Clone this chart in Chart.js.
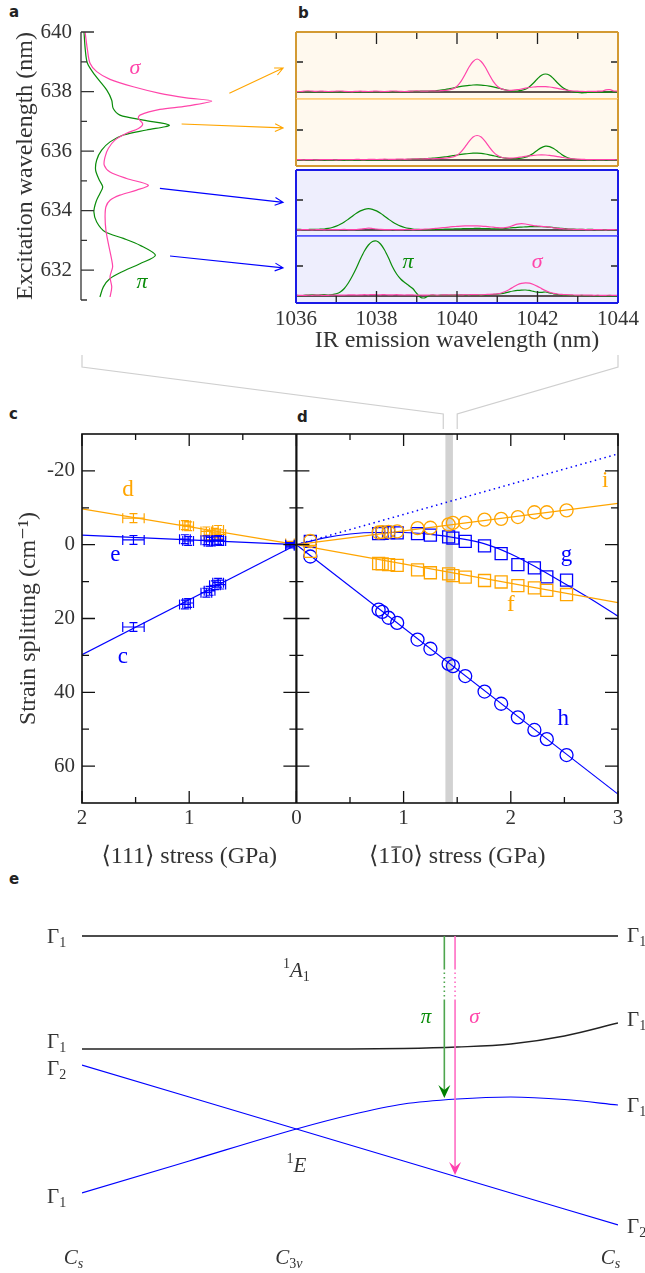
<!DOCTYPE html>
<html>
<head>
<meta charset="utf-8">
<script src="https://cdn.jsdelivr.net/npm/chart.js@4.4.0/dist/chart.umd.min.js"></script>
<style>
  body { margin: 0; background: #fff; width: 645px; height: 1273px; position: relative; overflow: hidden; }
  canvas { position: absolute; }
  .tag { position: absolute; font: bold 15px "DejaVu Sans", sans-serif; color: #222; line-height: 15px; }
</style>
</head>
<body>
<div class="tag" style="left:9px;top:5px">a</div>
<div class="tag" style="left:298px;top:6px">b</div>
<div class="tag" style="left:9px;top:407px">c</div>
<div class="tag" style="left:297px;top:410px">d</div>
<div class="tag" style="left:9px;top:872px">e</div>

<canvas id="chartA" width="296" height="360" style="left:0;top:0"></canvas>
<canvas id="chartB1" width="375" height="75" style="left:270px;top:28px"></canvas>
<canvas id="chartB2" width="375" height="75" style="left:270px;top:95px"></canvas>
<canvas id="chartB3" width="375" height="74" style="left:270px;top:166px"></canvas>
<canvas id="chartB4" width="375" height="123" style="left:270px;top:232px"></canvas>
<canvas id="chartCD" width="645" height="540" style="left:0;top:340px"></canvas>
<canvas id="chartE" width="645" height="393" style="left:0;top:880px"></canvas>

<script>
// ---------- a: excitation spectra (intensity vs excitation wavelength)
const sigmaExcWl = [640.0, 639.4, 638.95, 638.67, 638.41, 638.16, 637.94, 637.79, 637.68, 637.51, 637.40, 637.21,
  637.10, 636.91, 636.76, 636.60, 636.37, 636.09, 635.81, 635.53, 635.30, 635.08, 634.86, 634.69, 634.52, 634.35,
  634.13, 633.79, 633.34, 632.90, 632.34, 632.11, 631.78, 631.44, 631.10];
const sigmaExcInt = [0.019, 0.03, 0.042, 0.073, 0.135, 0.243, 0.367, 0.49, 0.608, 0.49, 0.367, 0.274,
  0.267, 0.287, 0.267, 0.212, 0.158, 0.127, 0.112, 0.108, 0.135, 0.212, 0.313, 0.259, 0.181, 0.135,
  0.116, 0.112, 0.116, 0.127, 0.143, 0.147, 0.135, 0.143, 0.135];
const piExcWl = [640.0, 639.4, 638.95, 638.55, 638.05, 637.71, 637.43, 637.21, 637.04, 636.87, 636.71, 636.54,
  636.31, 636.03, 635.70, 635.36, 635.03, 634.80, 634.58, 634.30, 633.96, 633.62, 633.29, 633.07, 632.84,
  632.50, 632.22, 631.94, 631.72, 631.44, 631.10];
const piExcInt = [0.014, 0.02, 0.03, 0.065, 0.12, 0.143, 0.15, 0.181, 0.29, 0.411, 0.305, 0.197,
  0.135, 0.096, 0.073, 0.068, 0.085, 0.101, 0.088, 0.07, 0.06, 0.073, 0.112, 0.197, 0.274,
  0.346, 0.274, 0.189, 0.135, 0.104, 0.088];
const excTicks = [631, 632, 633, 634, 635, 636, 637, 638, 639, 640];

// ---------- b: emission spectra, four excitation wavelengths
const emWl = [
  1036.0, 1036.1, 1036.2, 1036.3, 1036.4, 1036.5, 1036.6, 1036.7, 1036.8, 1036.9,
  1037.0, 1037.1, 1037.2, 1037.3, 1037.4, 1037.5, 1037.6, 1037.7, 1037.8, 1037.9,
  1038.0, 1038.1, 1038.2, 1038.3, 1038.4, 1038.5, 1038.6, 1038.7, 1038.8, 1038.9,
  1039.0, 1039.1, 1039.2, 1039.3, 1039.4, 1039.5, 1039.6, 1039.7, 1039.8, 1039.9,
  1040.0, 1040.1, 1040.2, 1040.3, 1040.4, 1040.5, 1040.6, 1040.7, 1040.8, 1040.9,
  1041.0, 1041.1, 1041.2, 1041.3, 1041.4, 1041.5, 1041.6, 1041.7, 1041.8, 1041.9,
  1042.0, 1042.1, 1042.2, 1042.3, 1042.4, 1042.5, 1042.6, 1042.7, 1042.8, 1042.9,
  1043.0, 1043.1, 1043.2, 1043.3, 1043.4, 1043.5, 1043.6, 1043.7, 1043.8, 1043.9, 1044.0];
const sigmaEm1 = [
  0.3, 0.5, 0.9, 1.2, 0.8, 0.6, 0.9, 0.7, 0.5, 0.6,
  0.8, 1.0, 0.7, 0.5, 0.4, 0.6, 0.8, 0.6, 0.5, 0.7,
  0.9, 0.6, 0.5, 0.7, 1.0, 0.8, 0.6, 0.5, 0.7, 0.9,
  1.1, 0.9, 0.8, 1.0, 1.2, 1.0, 1.3, 1.6, 2.0, 3.1,
  5.8, 10.6, 17.5, 25, 30.5, 33, 30.5, 25, 17.5, 10.6,
  5.8, 3.2, 2.0, 1.6, 1.8, 2.3, 3.0, 3.8, 4.5, 5.0,
  5.3, 5.4, 5.3, 5.0, 4.4, 3.6, 2.8, 2.0, 1.4, 1.0,
  0.8, 0.6, 0.5, 0.7, 0.6, 0.8, 0.9, 2.2, 2.3, 1.0, 0.8];
const piEm1 = [
  0.4, 0.2, 0.5, 0.3, 0.1, 0.3, 0.4, 0.2, 0.0, 0.2,
  0.3, 0.1, 0.2, 0.4, 0.3, 0.1, 0.2, 0.3, 0.2, 0.4,
  0.3, 0.5, 0.4, 0.2, 0.3, 0.4, 0.5, 0.4, 0.6, 0.7,
  0.6, 0.8, 0.9, 1.0, 1.2, 1.5, 1.9, 2.5, 3.2, 4.0,
  4.8, 5.6, 6.2, 6.7, 7.0, 7.1, 6.9, 6.5, 5.9, 5.1,
  4.2, 3.2, 2.2, 1.4, 1.0, 1.0, 1.6, 2.8, 5.3, 9.0,
  13.2, 16.7, 18.0, 16.7, 13.2, 9.0, 5.3, 2.6, 1.0, 0.0,
  -0.5, -0.8, -0.6, -0.4, -0.2, 0.0, -0.3, -0.1, 0.1, 0.0, 0.2];
const sigmaEm2 = [
  0.5, 0.3, 0.2, 0.4, 0.3, 0.2, 0.3, 0.5, 0.4, 0.3,
  0.2, 0.4, 0.5, 0.3, 0.4, 0.6, 0.5, 0.4, 0.6, 0.7,
  0.5, 0.6, 0.8, 0.7, 0.6, 0.8, 0.9, 0.7, 0.8, 1.0,
  1.1, 1.0, 1.2, 1.3, 1.2, 1.4, 1.6, 1.9, 2.3, 3.0,
  4.7, 8.2, 13.2, 18.6, 23.0, 24.5, 23.0, 18.6, 13.2, 8.2,
  4.7, 2.8, 2.0, 1.8, 2.0, 2.4, 3.0, 3.6, 4.2, 4.7,
  5.0, 5.1, 5.0, 4.7, 4.1, 3.4, 2.7, 2.0, 1.5, 1.1,
  0.8, 0.6, 0.5, 0.4, 0.5, 0.4, 0.3, 0.5, 0.4, 0.3, 0.2];
const piEm2 = [
  0.2, 0.0, 0.1, 0.2, -0.1, 0.0, 0.1, 0.0, -0.2, -0.1,
  0.0, 0.1, -0.1, -0.3, -0.2, 0.0, 0.1, 0.2, 0.1, 0.0,
  0.2, 0.1, 0.3, 0.2, 0.4, 0.3, 0.5, 0.4, 0.6, 0.8,
  0.9, 1.1, 1.3, 1.6, 1.9, 2.2, 2.6, 3.1, 3.7, 4.3,
  5.0, 5.6, 6.1, 6.5, 6.8, 6.9, 6.6, 6.0, 5.2, 4.3,
  3.4, 2.6, 1.9, 1.5, 1.3, 1.4, 1.9, 2.8, 4.4, 6.8,
  9.8, 12.4, 13.8, 13.4, 11.4, 8.6, 5.6, 3.2, 1.6, 0.8,
  0.4, 0.2, 0.3, 0.1, 0.2, 0.0, 0.1, 0.2, 0.0, 0.1, 0.0];
const sigmaEm3 = [
  0.3, 0.2, 0.4, 0.3, 0.2, 0.3, 0.4, 0.2, 0.3, 0.4,
  0.3, 0.5, 0.6, 0.4, 0.3, 0.5, 0.9, 1.4, 1.8, 1.5,
  1.0, 0.6, 0.4, 0.3, 0.5, 0.4, 0.3, 0.5, 0.6, 0.4,
  0.5, 0.7, 0.8, 1.0, 1.3, 1.7, 2.1, 2.5, 2.9, 3.3,
  3.6, 3.9, 4.1, 4.2, 4.2, 4.1, 3.9, 3.6, 3.2, 2.8,
  2.4, 2.1, 2.3, 3.2, 4.6, 5.8, 6.3, 6.0, 5.2, 4.4,
  4.0, 3.7, 3.3, 2.8, 2.2, 1.7, 1.3, 1.0, 0.8, 0.6,
  0.5, 0.6, 0.4, 0.3, 0.5, 0.4, 0.3, 0.2, 0.4, 0.3, 0.2];
const piEm3 = [
  0.5, 0.6, 0.4, 0.5, 0.7, 0.6, 0.8, 1.0, 1.6, 2.5,
  3.9, 5.7, 8.0, 10.8, 13.8, 16.7, 19.1, 20.7, 21.3, 20.7,
  19.1, 16.7, 13.8, 10.8, 8.0, 5.7, 3.9, 2.5, 1.6, 1.0,
  0.7, 0.5, 0.4, 0.5, 0.4, 0.6, 0.7, 0.8, 0.9, 1.0,
  1.1, 1.2, 1.4, 1.5, 1.5, 1.6, 1.5, 1.4, 1.3, 1.2,
  1.1, 1.2, 1.6, 2.0, 2.4, 2.7, 2.9, 3.1, 3.3, 3.4,
  3.4, 3.3, 3.1, 2.8, 2.4, 2.0, 1.6, 1.3, 1.0, 0.8,
  0.7, 0.6, 0.5, 0.6, 0.5, 0.4, 0.3, 0.4, 0.3, 0.2, 0.3];
const sigmaEm4 = [
  0.5, 0.7, 0.6, 0.8, 0.7, 0.9, 0.8, 0.6, 0.7, 0.9,
  1.0, 0.8, 0.9, 1.1, 1.2, 1.0, 1.1, 1.3, 1.2, 1.4,
  1.3, 1.2, 1.4, 1.1, 1.2, 1.3, 1.1, 1.0, 1.2, 1.1,
  0.9, 1.0, 0.8, 1.0, 1.1, 0.9, 1.0, 1.2, 1.1, 1.0,
  1.2, 1.1, 1.3, 1.2, 1.4, 1.3, 1.2, 1.5, 1.6, 1.8,
  2.2, 3.0, 4.5, 6.6, 9.0, 11.2, 12.6, 13.2, 12.8, 11.5,
  9.6, 7.4, 5.4, 3.8, 2.7, 2.0, 1.6, 1.3, 1.1, 1.0,
  0.9, 1.0, 0.8, 0.9, 0.7, 0.8, 0.6, 0.7, 0.8, 0.6, 0.7];
const piEm4 = [
  0.8, 0.3, 0.6, 1.0, 1.2, 0.9, 1.1, 1.3, 1.0, 1.4,
  2.2, 4.0, 7.5, 13, 20, 28, 37, 45, 51, 54.5,
  55, 52, 46, 38, 29, 22, 17, 13.5, 10.5, 7.5,
  2.5, -1.5, -1.8, 0.3, 0.8, 0.5, 0.9, 1.0, 0.7, 0.9,
  0.8, 1.1, 0.9, 1.0, 1.2, 1.0, 0.8, 1.1, 1.3, 1.5,
  1.8, 2.4, 3.2, 4.2, 5.0, 5.6, 5.9, 6.0, 5.6, 4.6,
  3.8, 3.6, 4.0, 3.2, 2.2, 1.5, 1.0, 0.7, 0.6, 0.5,
  0.4, 0.6, 0.3, 0.5, 0.4, 0.2, 0.4, 0.3, 0.1, 0.2, 0.0];

// ---------- c: <111> stress (GPa) vs strain splitting (cm^-1)
const stress111 = [1.52, 1.04, 1.01, 0.84, 0.81, 0.76, 0.73, 0.71, 0.06];
const splitC = [22.3, 16.2, 15.8, 13.0, 12.5, 11.0, 10.3, 10.8, 0.3];
const splitD = [-7.2, -5.3, -5.0, -3.6, -2.6, -3.2, -4.0, -2.8, -0.3];
const splitE = [-1.3, -1.5, -1.0, -1.2, -0.8, -1.1, -1.3, -1.0, 0.0];
const stressErr111 = [0.1, 0.05, 0.05, 0.05, 0.05, 0.05, 0.05, 0.05, 0.04];
const splitErr111 = [1.2, 1.2, 1.2, 1.2, 1.2, 1.2, 1.2, 1.2, 0.6];
const fit111 = [0, 2];
const fitC = [0, 29.8];
const fitD = [0, -9.7];
const fitE = [0, -2.6];

// ---------- d: <1-10> stress (GPa) vs strain splitting (cm^-1)
const stress110 = [0.13, 0.767, 0.80, 0.86, 0.94, 1.13, 1.25, 1.42, 1.46, 1.575, 1.755, 1.91, 2.066, 2.22, 2.336, 2.52];
const splitI = [-1.0, -3.3, -3.4, -3.5, -3.6, -4.5, -4.6, -5.5, -5.9, -6.0, -6.8, -7.0, -7.5, -8.8, -8.8, -9.3];
const splitG = [-0.9, -3.0, -3.1, -3.3, -3.2, -3.0, -2.6, -2.1, -1.8, -0.9, 0.3, 2.4, 5.4, 6.3, 8.7, 9.6];
const splitF = [1.8, 5.1, 5.2, 5.4, 5.6, 6.8, 7.6, 7.9, 8.4, 8.8, 9.7, 10.1, 11.1, 11.7, 12.4, 13.5];
const splitH = [3.2, 17.6, 18.2, 19.8, 21.2, 25.7, 28.2, 32.3, 32.9, 35.6, 39.8, 43.1, 46.8, 50.2, 52.7, 57.0];
const fit110 = [0, 3];
const fitI = [0, -11.2];
const fitIdot = [0, -24.6];
const fitF = [0, 15.7];
const fitH = [0, 67.6];
const fitGStress = [0, 0.25, 0.5, 0.75, 1.0, 1.25, 1.5, 1.75, 2.0, 2.25, 2.5, 2.75, 3.0];
const fitG = [0, -1.8, -2.9, -3.3, -3.3, -2.8, -1.8, -0.3, 2.5, 6.3, 10.5, 14.8, 19.4];
const bandStress = [1.39, 1.46];

// ---------- e: level diagram (stress axis shared with c/d, <111> negative)
const levelX = [-2, -1, 0, 0.5, 1, 1.5, 2, 2.5, 3];
const levelA1Upper = [30.4, 30.4, 30.4, 30.4, 30.4, 30.4, 30.4, 30.4, 30.4];
const levelA1Lower = [19.1, 19.1, 19.1, 19.1, 19.15, 19.3, 19.6, 20.4, 21.7];
const levelE2 = [17.5, 14.3, 11.1, 9.5, 7.9, 6.3, 4.7, 3.1, 1.5];
const levelE1 = [4.7, 7.9, 11.1, 12.5, 13.6, 14.1, 14.3, 14.05, 13.5];

const pink = '#ff45aa', green = '#0a8c0a', orange = '#ffa500', blue = '#0000ff', ink = '#333';
const serif = '"Liberation Serif", "DejaVu Serif", serif';
const F = size => ({family: serif, size: size});
Chart.defaults.font.family = serif;
Chart.defaults.color = ink;

const xy = (xs, ys) => xs.map((x, i) => ({x: x, y: ys[i]}));
const neg = (xs) => xs.map(v => -v);

function baseOptions(pad) {
  return {
    responsive: false, animation: false, devicePixelRatio: 1, events: [],
    layout: {autoPadding: false, padding: pad},
    plugins: {legend: {display: false}, tooltip: {enabled: false}}
  };
}

function openArrow(ctx, x0, y0, x1, y1, color) {
  const ang = Math.atan2(y1 - y0, x1 - x0), L = 9, sp = 0.45;
  ctx.strokeStyle = color; ctx.lineWidth = 1.1;
  ctx.beginPath();
  ctx.moveTo(x0, y0); ctx.lineTo(x1, y1);
  ctx.moveTo(x1 - L * Math.cos(ang - sp), y1 - L * Math.sin(ang - sp));
  ctx.lineTo(x1, y1);
  ctx.lineTo(x1 - L * Math.cos(ang + sp), y1 - L * Math.sin(ang + sp));
  ctx.stroke();
}

// rich text: parts of {t, size, it, dy}
function rich(ctx, parts, x, y, align, color) {
  const fnt = p => (p.it ? 'italic ' : '') + p.size + 'px ' + serif;
  let w = 0;
  parts.forEach(p => { ctx.font = fnt(p); w += ctx.measureText(p.t).width; });
  let cx = align === 'center' ? x - w / 2 : x;
  ctx.fillStyle = color || ink; ctx.textAlign = 'left'; ctx.textBaseline = 'alphabetic';
  parts.forEach(p => { ctx.font = fnt(p); ctx.fillText(p.t, cx, y + (p.dy || 0)); cx += ctx.measureText(p.t).width; });
}

// ---------- a
const excArrows = [
  {x0: 0.69, y0: 637.94, x1: 0.94, y1: 638.79, color: orange},
  {x0: 0.468, y0: 636.91, x1: 0.94, y1: 636.78, color: orange},
  {x0: 0.367, y0: 634.75, x1: 0.94, y1: 634.28, color: blue},
  {x0: 0.414, y0: 632.48, x1: 0.94, y1: 632.08, color: blue}
];
new Chart(document.getElementById('chartA'), {
  type: 'scatter',
  data: {datasets: [
    {data: xy(sigmaExcInt, sigmaExcWl), showLine: true, borderColor: pink, borderWidth: 1.2, pointRadius: 0, tension: 0.3},
    {data: xy(piExcInt, piExcWl), showLine: true, borderColor: green, borderWidth: 1.2, pointRadius: 0, tension: 0.3}
  ]},
  options: Object.assign(baseOptions({left: 11, right: 0, top: 32, bottom: 60}), {
    scales: {
      x: {type: 'linear', min: 0, max: 1, display: false},
      y: {type: 'linear', min: 631, max: 640,
          grid: {display: false, drawTicks: false}, border: {display: false},
          ticks: {stepSize: 1, autoSkip: false, padding: 9, font: F(21), color: ink,
                  callback: v => (v % 2 === 0 ? String(v) : '')},
          title: {display: true, text: 'Excitation wavelength (nm)', font: F(24), color: ink, padding: 0},
          afterFit: s => { s.width = 70; }}
    }
  }),
  plugins: [{
    id: 'panelA',
    afterDraw(chart) {
      const {ctx, chartArea: ar, scales: {x, y}} = chart;
      ctx.save();
      ctx.strokeStyle = ink; ctx.lineWidth = 1.3;
      ctx.beginPath();
      ctx.moveTo(ar.left, ar.top); ctx.lineTo(ar.left, ar.bottom);
      excTicks.forEach(w => {
        const py = y.getPixelForValue(w);
        ctx.moveTo(ar.left, py); ctx.lineTo(ar.left + (w % 2 === 0 ? 13 : 6), py);
      });
      ctx.stroke();
      excArrows.forEach(a => openArrow(ctx, x.getPixelForValue(a.x0), y.getPixelForValue(a.y0),
                                       x.getPixelForValue(a.x1), y.getPixelForValue(a.y1), a.color));
      ctx.font = 'italic 22px ' + serif; ctx.textAlign = 'center'; ctx.textBaseline = 'middle';
      ctx.fillStyle = pink; ctx.fillText('σ', x.getPixelForValue(0.251), y.getPixelForValue(638.79));
      ctx.fillStyle = green; ctx.fillText('π', x.getPixelForValue(0.284), y.getPixelForValue(631.6));
      ctx.restore();
    }
  }]
});

// ---------- b
const orangeBox = {bg: '#fff9ee', frame: '#d39a33', sep: '#ffc870'};
const blueBox = {bg: '#eeeefd', frame: '#1a1ae6', sep: '#4d4dff'};
const emMajor = [1038, 1040, 1042], emMinor = [1037, 1039, 1041, 1043];

function emChart(id, sig, pi, cfg) {
  return new Chart(document.getElementById(id), {
    type: 'line',
    data: {datasets: [
      {data: xy(emWl, sig), borderColor: pink, borderWidth: 1.2, pointRadius: 0, tension: 0.3},
      {data: xy(emWl, pi), borderColor: green, borderWidth: 1.2, pointRadius: 0, tension: 0.3},
      {data: xy([1036, 1044], [0, 0]), borderColor: '#2a1a1a', borderWidth: 1.6, pointRadius: 0}
    ]},
    options: Object.assign(baseOptions({left: 26, right: 27, top: 4, bottom: cfg.axis ? 0 : 4}), {
      scales: {
        x: {type: 'linear', min: 1036, max: 1044, display: !!cfg.axis,
            grid: {display: false, drawTicks: false}, border: {display: false},
            ticks: {stepSize: 2, padding: 3.5, font: F(21), color: ink, maxRotation: 0, callback: v => String(v)},
            title: {display: true, text: 'IR emission wavelength (nm)', font: F(24), color: ink, padding: 0},
            afterFit: s => { s.height = cfg.axis ? 52 : 0; }},
        y: {type: 'linear', min: cfg.yMin, max: cfg.yMax, display: false}
      }
    }),
    plugins: [{
      id: 'emBox',
      beforeDatasetsDraw(chart) {
        const {ctx, chartArea: ar} = chart;
        ctx.save(); ctx.fillStyle = cfg.box.bg;
        ctx.fillRect(ar.left, ar.top, ar.right - ar.left, ar.bottom - ar.top);
        ctx.restore();
      },
      afterDraw(chart) {
        const {ctx, chartArea: ar, scales: {x, y}} = chart;
        ctx.save();
        // ticks
        ctx.strokeStyle = '#222'; ctx.lineWidth = 1.3; ctx.beginPath();
        const ty = y.getPixelForValue(30);
        ctx.moveTo(ar.left, ty); ctx.lineTo(ar.left + 7, ty);
        ctx.moveTo(ar.right, ty); ctx.lineTo(ar.right - 7, ty);
        if (cfg.topTicks || cfg.bottomTicks) {
          const y0 = cfg.topTicks ? ar.top : ar.bottom, dir = cfg.topTicks ? 1 : -1;
          emMajor.forEach(v => { const px = x.getPixelForValue(v); ctx.moveTo(px, y0); ctx.lineTo(px, y0 + dir * 12); });
          emMinor.forEach(v => { const px = x.getPixelForValue(v); ctx.moveTo(px, y0); ctx.lineTo(px, y0 + dir * 7); });
        }
        ctx.stroke();
        // frame
        const side = (c, w, x0, y0, x1, y1) => { ctx.strokeStyle = c; ctx.lineWidth = w; ctx.beginPath(); ctx.moveTo(x0, y0); ctx.lineTo(x1, y1); ctx.stroke(); };
        side(cfg.top === 'frame' ? cfg.box.frame : cfg.box.sep, cfg.top === 'frame' ? 2 : 1.5, ar.left, ar.top, ar.right, ar.top);
        side(cfg.bottom === 'frame' ? cfg.box.frame : cfg.box.sep, cfg.bottom === 'frame' ? 2 : 1.5, ar.left, ar.bottom, ar.right, ar.bottom);
        side(cfg.box.frame, 2, ar.left, ar.top, ar.left, ar.bottom);
        side(cfg.box.frame, 2, ar.right, ar.top, ar.right, ar.bottom);
        if (cfg.labels) {
          ctx.font = 'italic 22px ' + serif; ctx.textAlign = 'center'; ctx.textBaseline = 'middle';
          ctx.fillStyle = green; ctx.fillText('π', x.getPixelForValue(1038.78), y.getPixelForValue(34));
          ctx.fillStyle = pink; ctx.fillText('σ', x.getPixelForValue(1041.99), y.getPixelForValue(34));
        }
        ctx.restore();
      }
    }]
  });
}
emChart('chartB1', sigmaEm1, piEm1, {box: orangeBox, yMin: -7, yMax: 60, top: 'frame', bottom: 'sep', topTicks: true});
emChart('chartB2', sigmaEm2, piEm2, {box: orangeBox, yMin: -6, yMax: 61, top: 'sep', bottom: 'frame'});
emChart('chartB3', sigmaEm3, piEm3, {box: blueBox, yMin: -6, yMax: 60, top: 'frame', bottom: 'sep'});
emChart('chartB4', sigmaEm4, piEm4, {box: blueBox, yMin: -7, yMax: 60, top: 'sep', bottom: 'frame', bottomTicks: true, axis: true, labels: true});

// ---------- c + d
function errBars(ctx, x, y, xs, ys, xe, ye, color) {
  ctx.strokeStyle = color; ctx.lineWidth = 1.2; ctx.beginPath();
  xs.forEach((v, i) => {
    const px = x.getPixelForValue(v), py = y.getPixelForValue(ys[i]);
    const x1 = x.getPixelForValue(v - xe[i]), x2 = x.getPixelForValue(v + xe[i]);
    const y1 = y.getPixelForValue(ys[i] - ye[i]), y2 = y.getPixelForValue(ys[i] + ye[i]);
    ctx.moveTo(x1, py); ctx.lineTo(x2, py);
    ctx.moveTo(x1, py - 5); ctx.lineTo(x1, py + 5);
    ctx.moveTo(x2, py - 5); ctx.lineTo(x2, py + 5);
    ctx.moveTo(px, y1); ctx.lineTo(px, y2);
    ctx.moveTo(px - 4, y1); ctx.lineTo(px + 4, y1);
    ctx.moveTo(px - 4, y2); ctx.lineTo(px + 4, y2);
  });
  ctx.stroke();
}
const lineDs = (xs, ys, color, extra) => Object.assign({data: xy(xs, ys), showLine: true, borderColor: color, borderWidth: 1.2, pointRadius: 0}, extra || {});
const markDs = (xs, ys, color, style, r) => ({data: xy(xs, ys), showLine: false, pointStyle: style, pointRadius: r,
  pointBorderColor: color, pointBackgroundColor: 'rgba(0,0,0,0)', pointBorderWidth: 1.3});
const curveLabels = [
  {t: 'd', x: -1.57, y: -14.9, c: orange}, {t: 'e', x: -1.69, y: 2.7, c: blue}, {t: 'c', x: -1.62, y: 30.3, c: blue},
  {t: 'i', x: 2.88, y: -17.3, c: orange}, {t: 'g', x: 2.52, y: 2.7, c: blue}, {t: 'f', x: 2.0, y: 16.2, c: orange},
  {t: 'h', x: 2.49, y: 47.3, c: blue}
];
const xTickVals = [-2, -1.5, -1, -0.5, 0, 0.5, 1, 1.5, 2, 2.5, 3];
const yTickVals = [-20, -10, 0, 10, 20, 30, 40, 50, 60];

new Chart(document.getElementById('chartCD'), {
  type: 'scatter',
  data: {datasets: [
    markDs(stress110, splitI, orange, 'circle', 6.5),
    markDs(stress110, splitF, orange, 'rect', 8.5),
    markDs(stress110, splitG, blue, 'rect', 8.5),
    markDs(stress110, splitH, blue, 'circle', 6.5),
    lineDs(neg(fit111), fitC, blue),
    lineDs(neg(fit111), fitD, orange),
    lineDs(neg(fit111), fitE, blue),
    lineDs(fit110, fitI, orange),
    lineDs(fit110, fitIdot, blue, {borderDash: [1.5, 3.5], borderWidth: 1.5}),
    lineDs(fit110, fitF, orange),
    lineDs(fit110, fitH, blue),
    lineDs(fitGStress, fitG, blue, {cubicInterpolationMode: 'monotone'})
  ]},
  options: Object.assign(baseOptions({left: 14, right: 27, top: 94, bottom: 17}), {
    scales: {
      x: {type: 'linear', min: -2, max: 3,
          grid: {display: false, drawTicks: false}, border: {display: false},
          ticks: {stepSize: 0.5, autoSkip: false, padding: 2.5, font: F(21), color: ink, maxRotation: 0,
                  callback: v => (Number.isInteger(v) ? String(Math.abs(v)) : '')},
          afterFit: s => { s.height = 60; }},
      y: {type: 'linear', min: -30, max: 70, reverse: true,
          grid: {display: false, drawTicks: false}, border: {display: false},
          ticks: {stepSize: 10, autoSkip: false, padding: 7, font: F(21), color: ink,
                  callback: v => (v % 20 === 0 ? String(v) : '')},
          title: {display: true, text: 'Strain splitting (cm⁻¹)', font: F(24), color: ink, padding: 0},
          afterFit: s => { s.width = 68; }}
    }
  }),
  plugins: [{
    id: 'panelCD',
    beforeDatasetsDraw(chart) {
      const {ctx, chartArea: ar, scales: {x}} = chart;
      ctx.save();
      const b0 = x.getPixelForValue(bandStress[0]), b1 = x.getPixelForValue(bandStress[1]);
      ctx.fillStyle = '#d2d2d2';
      ctx.fillRect(b0, ar.top, b1 - b0, ar.bottom - ar.top);
      // connector from panel b to the band
      ctx.strokeStyle = '#cfcfcf'; ctx.lineWidth = 1.2; ctx.beginPath();
      ctx.moveTo(x.getPixelForValue(-2), ar.top - 79); ctx.lineTo(x.getPixelForValue(-2), ar.top - 67);
      ctx.lineTo(x.getPixelForValue(1.37), ar.top - 20); ctx.lineTo(x.getPixelForValue(1.37), ar.top - 5);
      ctx.moveTo(x.getPixelForValue(3), ar.top - 79); ctx.lineTo(x.getPixelForValue(3), ar.top - 67);
      ctx.lineTo(x.getPixelForValue(1.5), ar.top - 20); ctx.lineTo(x.getPixelForValue(1.5), ar.top - 5);
      ctx.stroke();
      ctx.restore();
    },
    afterDatasetsDraw(chart) {
      const {ctx, scales: {x, y}} = chart;
      ctx.save();
      const nx = neg(stress111);
      errBars(ctx, x, y, nx, splitD, stressErr111, splitErr111, orange);
      errBars(ctx, x, y, nx, splitE, stressErr111, splitErr111, blue);
      errBars(ctx, x, y, nx, splitC, stressErr111, splitErr111, blue);
      ctx.font = '23px ' + serif; ctx.textAlign = 'center'; ctx.textBaseline = 'middle';
      curveLabels.forEach(l => { ctx.fillStyle = l.c; ctx.fillText(l.t, x.getPixelForValue(l.x), y.getPixelForValue(l.y)); });
      ctx.restore();
    },
    afterDraw(chart) {
      const {ctx, chartArea: ar, scales: {x, y}} = chart;
      ctx.save();
      ctx.strokeStyle = '#111'; ctx.lineWidth = 1.6;
      ctx.strokeRect(ar.left, ar.top, ar.right - ar.left, ar.bottom - ar.top);
      const x0 = x.getPixelForValue(0);
      ctx.lineWidth = 2.2; ctx.beginPath(); ctx.moveTo(x0, ar.top); ctx.lineTo(x0, ar.bottom); ctx.stroke();
      ctx.lineWidth = 1.3; ctx.beginPath();
      xTickVals.forEach(v => {
        const px = x.getPixelForValue(v), L = Number.isInteger(v) ? 12 : 6;
        ctx.moveTo(px, ar.top); ctx.lineTo(px, ar.top + L);
        ctx.moveTo(px, ar.bottom); ctx.lineTo(px, ar.bottom - L);
      });
      yTickVals.forEach(v => {
        const py = y.getPixelForValue(v), L = v % 20 === 0 ? 13 : 7;
        ctx.moveTo(ar.left, py); ctx.lineTo(ar.left + L, py);
        ctx.moveTo(ar.right, py); ctx.lineTo(ar.right - L, py);
        ctx.moveTo(x0 - L, py); ctx.lineTo(x0 + L, py);
      });
      ctx.stroke();
      // two x-axis titles
      const ty = ar.bottom + 54;
      ctx.fillStyle = ink; ctx.font = '24px ' + serif; ctx.textBaseline = 'middle'; ctx.textAlign = 'center';
      ctx.fillText('⟨111⟩ stress (GPa)', x.getPixelForValue(-1), ty);
      const t2 = '⟨110⟩ stress (GPa)', cx = x.getPixelForValue(1.5);
      const w = ctx.measureText(t2).width;
      ctx.fillText(t2, cx, ty);
      const wA = ctx.measureText('⟨1').width, w1 = ctx.measureText('1').width;
      const ox = cx - w / 2 + wA;
      ctx.strokeStyle = ink; ctx.lineWidth = 1.1; ctx.beginPath();
      ctx.moveTo(ox + 1, ty - 10); ctx.lineTo(ox + w1 - 1, ty - 10); ctx.stroke();
      ctx.restore();
    }
  }]
});

// ---------- e
const eArrows = [
  {x: 1.38, from: 30.4, to: 14.2, dot: [27.2, 24.0], line: '#4ea64e', head: '#008000'},
  {x: 1.48, from: 30.4, to: 6.5, dot: [27.2, 24.0], line: '#ff6ec4', head: '#ff3fae'}
];
const G = (n) => [{t: 'Γ', size: 21}, {t: n, size: 14, dy: 4}];
const levelLabels = [
  {side: 'L', val: 30.4, off: 7, n: '1'}, {side: 'L', val: 19.1, off: -1, n: '1'},
  {side: 'L', val: 17.5, off: 10, n: '2'}, {side: 'L', val: 4.7, off: 10, n: '1'},
  {side: 'R', val: 30.4, off: 6, n: '1'}, {side: 'R', val: 21.7, off: 3, n: '1'},
  {side: 'R', val: 13.5, off: 7, n: '1'}, {side: 'R', val: 1.5, off: 8, n: '2'}
];
new Chart(document.getElementById('chartE'), {
  type: 'scatter',
  data: {datasets: [
    lineDs(levelX, levelA1Upper, '#111', {borderWidth: 1.4}),
    lineDs(levelX, levelA1Lower, '#222', {cubicInterpolationMode: 'monotone', borderWidth: 1.4}),
    lineDs(levelX, levelE2, blue),
    lineDs(levelX, levelE1, blue, {cubicInterpolationMode: 'monotone'})
  ]},
  options: Object.assign(baseOptions({left: 82, right: 27, top: 20, bottom: 33}), {
    scales: {
      x: {type: 'linear', min: -2, max: 3, display: false},
      y: {type: 'linear', min: 0, max: 34, display: false}
    }
  }),
  plugins: [{
    id: 'panelE',
    afterDraw(chart) {
      const {ctx, chartArea: ar, scales: {x, y}} = chart;
      ctx.save();
      eArrows.forEach(a => {
        const px = x.getPixelForValue(a.x), top = y.getPixelForValue(a.from), tip = y.getPixelForValue(a.to);
        const d0 = y.getPixelForValue(a.dot[0]), d1 = y.getPixelForValue(a.dot[1]);
        ctx.strokeStyle = a.line; ctx.lineWidth = 1.6;
        ctx.beginPath(); ctx.moveTo(px, top); ctx.lineTo(px, d0); ctx.moveTo(px, d1); ctx.lineTo(px, tip - 8); ctx.stroke();
        ctx.setLineDash([1.5, 3]); ctx.beginPath(); ctx.moveTo(px, d0); ctx.lineTo(px, d1); ctx.stroke(); ctx.setLineDash([]);
        ctx.fillStyle = a.head; ctx.beginPath();
        ctx.moveTo(px, tip); ctx.lineTo(px - 6, tip - 13); ctx.lineTo(px, tip - 8); ctx.lineTo(px + 6, tip - 13);
        ctx.closePath(); ctx.fill();
      });
      levelLabels.forEach(l => {
        const py = y.getPixelForValue(l.val) + l.off;
        rich(ctx, G(l.n), l.side === 'L' ? ar.left - 35 : ar.right + 9, py, 'left');
      });
      rich(ctx, [{t: '1', size: 14, dy: -9}, {t: 'A', size: 21, it: true}, {t: '1', size: 14, dy: 4}], x.getPixelForValue(0), y.getPixelForValue(26.3), 'center');
      rich(ctx, [{t: '1', size: 14, dy: -9}, {t: 'E', size: 21, it: true}], x.getPixelForValue(0), y.getPixelForValue(6.8), 'center');
      rich(ctx, [{t: 'π', size: 21, it: true}], x.getPixelForValue(1.21), y.getPixelForValue(21.7), 'center', green);
      rich(ctx, [{t: 'σ', size: 21, it: true}], x.getPixelForValue(1.66), y.getPixelForValue(21.7), 'center', pink);
      const csY = y.getPixelForValue(-2.4);
      rich(ctx, [{t: 'C', size: 21, it: true}, {t: 's', size: 14, it: true, dy: 4}], x.getPixelForValue(-2.08), csY, 'center');
      rich(ctx, [{t: 'C', size: 21, it: true}, {t: '3', size: 14, dy: 4}, {t: 'v', size: 14, it: true, dy: 4}], x.getPixelForValue(-0.07), csY, 'center');
      rich(ctx, [{t: 'C', size: 21, it: true}, {t: 's', size: 14, it: true, dy: 4}], x.getPixelForValue(2.93), csY, 'center');
      ctx.restore();
    }
  }]
});
</script>
</body>
</html>
